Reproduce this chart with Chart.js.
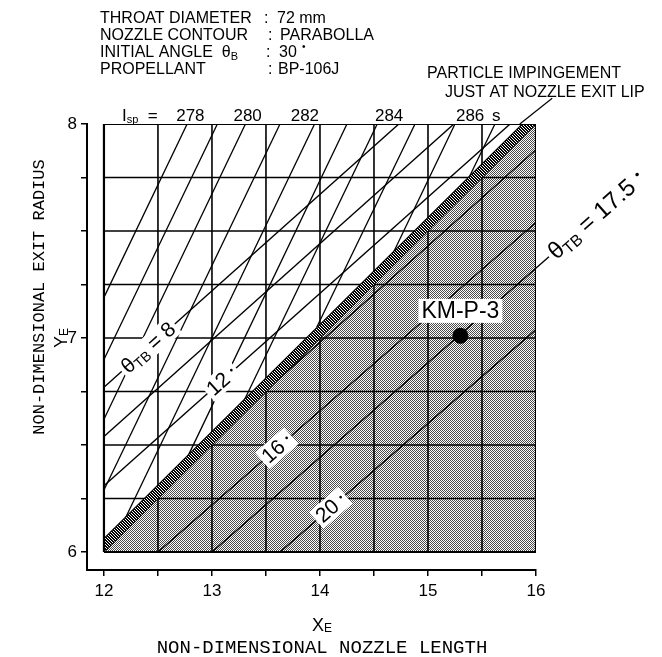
<!DOCTYPE html>
<html>
<head>
<meta charset="utf-8">
<script src="https://cdn.jsdelivr.net/npm/chart.js@4.4.1/dist/chart.umd.min.js"></script>
<style>
  html, body { margin: 0; padding: 0; background: #fff; }
</style>
</head>
<body>
<canvas id="chart" width="662" height="657"></canvas>
<script>
const SANS = '"Liberation Sans", Arial, sans-serif';
const MONO = '"Liberation Mono", "Courier New", monospace';

// ticks and grid
const xTicks = [12, 12.5, 13, 13.5, 14, 14.5, 15, 15.5, 16];
const yTicks = [6, 6.25, 6.5, 6.75, 7, 7.25, 7.5, 7.75, 8];
const gridX = [12.5, 13, 13.5, 14, 14.5, 15, 15.5];
const gridY = [6.25, 6.5, 6.75, 7, 7.25, 7.5, 7.75];

// particle impingement limit and top of the hatched strip
const limitX = [12, 16];
const limitY = [6, 8];
const stripTopY = [6.06, 8.06];

// Isp contours (steep lines), lower end -> top edge
const ispX1 = [12, 12, 12, 12, 12.2, 12.77, 13.3, 13.97, 14.68, 15.38];
const ispY1 = [7.19, 6.9, 6.62, 6.29, 6.16, 6.44, 6.71, 7.05, 7.4, 7.75];
const ispX2 = [12.77, 13.05, 13.31, 13.63, 13.95, 14.25, 14.53, 14.88, 15.25, 15.62];
const ispY2 = [8, 8, 8, 8, 8, 8, 8, 8, 8, 8];
const ispLabels = ['278', '280', '282', '284', '286'];
const ispLabelX = [12.8, 13.33, 13.86, 14.64, 15.39];

// theta_TB contours
const thetaNames = ['8', '10', '12', '14', '16', '17.5', '20'];
const thetaX1 = [12, 12, 12, 13.6, 12.5, 13.0, 13.63];
const thetaY1 = [6.77, 6.54, 6.31, 6.8, 6, 6, 6];
const thetaX2 = [14.73, 15.24, 15.76, 16, 16, 16.12, 16];
const thetaY2 = [8, 8, 8, 7.88, 7.54, 7.38, 7.04];
const thetaTagLine = [0, 2, 4, 6];
const thetaTagX = [12.41, 13.09, 13.6, 14.1];

// design point
const kmX = [15.3];
const kmY = [7.01];

function makeStipple() {
  const c = document.createElement('canvas');
  c.width = 2; c.height = 2;
  const g = c.getContext('2d');
  g.fillStyle = '#fff';
  g.fillRect(0, 0, 2, 2);
  g.fillStyle = '#4a4a4a';
  g.fillRect(0, 0, 1, 1);
  g.fillRect(1, 1, 1, 1);
  return g.createPattern(c, 'repeat');
}

function makeHatch() {
  const c = document.createElement('canvas');
  c.width = 3; c.height = 3;
  const g = c.getContext('2d');
  g.fillStyle = '#fff';
  g.fillRect(0, 0, 3, 3);
  g.fillStyle = '#000';
  for (let i = 0; i < 3; i++) {
    g.fillRect(i, i, 1, 1);
    g.fillRect((i + 1) % 3, i, 1, 1);
  }
  return g.createPattern(c, 'repeat');
}

const seg = (x1, y1, x2, y2, w, extra) => Object.assign({
  data: [{ x: x1, y: y1 }, { x: x2, y: y2 }],
  borderColor: '#000',
  borderWidth: w,
  pointRadius: 0,
  fill: false,
  tension: 0,
  order: 2
}, extra || {});

const datasets = [];

// stippled region below the limit line
datasets.push({
  data: [{ x: 12, y: 6 }, { x: 16, y: 6 }, { x: 16, y: 8 }, { x: 12, y: 6 }],
  borderWidth: 0,
  pointRadius: 0,
  backgroundColor: makeStipple(),
  fill: 'shape',
  order: 6
});

// grid
gridX.forEach(v => datasets.push(seg(v, 6, v, 8, 1.6, { order: 4 })));
gridY.forEach(v => datasets.push(seg(12, v, 16, v, 1.6, { order: 4 })));

// Isp lines
ispX1.forEach((v, i) => datasets.push(seg(v, ispY1[i], ispX2[i], ispY2[i], 1.3)));

// theta lines
thetaX1.forEach((v, i) => datasets.push(seg(v, thetaY1[i], thetaX2[i], thetaY2[i], 1.4,
  thetaNames[i] === '17.5' ? { clip: false } : {})));

// hatched strip along the limit
datasets.push({
  data: [
    { x: limitX[0], y: limitY[0] }, { x: limitX[1], y: limitY[1] },
    { x: limitX[1], y: stripTopY[1] }, { x: limitX[0], y: stripTopY[0] },
    { x: limitX[0], y: limitY[0] }
  ],
  borderWidth: 0,
  pointRadius: 0,
  backgroundColor: makeHatch(),
  fill: 'shape',
  order: 1
});
datasets.push(seg(limitX[0], stripTopY[0], limitX[1], stripTopY[1], 2.2, { order: 1 }));
datasets.push(seg(limitX[0], limitY[0], limitX[1], limitY[1], 1.2, { order: 1 }));

// leader to the strip label
datasets.push(seg(16.15, 8.12, 15.85, 8.0, 1.2, { clip: false, order: 1 }));

// frame
datasets.push({
  data: [{ x: 12, y: 6 }, { x: 16, y: 6 }, { x: 16, y: 8 }, { x: 12, y: 8 }, { x: 12, y: 6 }],
  borderColor: '#000', borderWidth: 2.2, pointRadius: 0, fill: false, order: 0
});

// KM-P-3
datasets.push({
  data: kmX.map((v, i) => ({ x: v, y: kmY[i] })),
  showLine: false,
  pointRadius: 7.5,
  pointBackgroundColor: '#000',
  pointBorderColor: '#000',
  order: 0
});

// draw a run of text pieces [text, size, dy]
function runWidth(ctx, parts, family) {
  let w = 0;
  parts.forEach(p => { ctx.font = p[1] + 'px ' + family; w += ctx.measureText(p[0]).width; });
  return w;
}
function drawRun(ctx, parts, x, y, family) {
  let cx = x;
  parts.forEach(p => {
    ctx.font = p[1] + 'px ' + family;
    ctx.fillText(p[0], cx, y + (p[2] || 0));
    cx += ctx.measureText(p[0]).width;
  });
  return cx;
}
function tag(ctx, px, py, angle, parts, align) {
  ctx.save();
  ctx.translate(px, py);
  ctx.rotate(angle);
  ctx.textBaseline = 'middle';
  ctx.textAlign = 'left';
  const w = runWidth(ctx, parts, SANS);
  const x0 = align === 'left' ? 0 : -w / 2;
  ctx.fillStyle = '#fff';
  ctx.fillRect(x0 - 3, -11, w + 6, 22);
  ctx.fillStyle = '#000';
  drawRun(ctx, parts, x0, 1, SANS);
  ctx.restore();
}

const notes = {
  id: 'notes',
  afterDatasetsDraw(chart) {
    const { ctx, scales: { x, y } } = chart;
    const lineAngle = k => Math.atan2(
      y.getPixelForValue(thetaY2[k]) - y.getPixelForValue(thetaY1[k]),
      x.getPixelForValue(thetaX2[k]) - x.getPixelForValue(thetaX1[k]));

    thetaTagX.forEach((lx, i) => {
      const k = thetaTagLine[i];
      const ly = thetaY1[k] + (thetaY2[k] - thetaY1[k]) * (lx - thetaX1[k]) / (thetaX2[k] - thetaX1[k]);
      const parts = i === 0
        ? [['θ', 21], ['TB', 14, 5], [' = ' + thetaNames[k], 21]]
        : [[thetaNames[k], 21], ['  •', 10, -2]];
      tag(ctx, x.getPixelForValue(lx), y.getPixelForValue(ly), lineAngle(k), parts);
    });

    // theta = 17.5 label beyond the frame
    const k = thetaNames.indexOf('17.5');
    const a = lineAngle(k);
    const ex = x.getPixelForValue(thetaX2[k]) + 3 * Math.cos(a);
    const ey = y.getPixelForValue(thetaY2[k]) + 3 * Math.sin(a);
    ctx.save();
    ctx.translate(ex, ey);
    ctx.rotate(a);
    ctx.textBaseline = 'middle';
    ctx.fillStyle = '#000';
    drawRun(ctx, [['θ', 24], ['TB', 16, 6], [' = 17.5', 24], ['  •', 13, -4]], 0, 1, SANS);
    ctx.restore();

    // KM-P-3 label
    const kx = x.getPixelForValue(kmX[0]);
    const ky = y.getPixelForValue(kmY[0]) - 25;
    ctx.save();
    ctx.font = '23px ' + SANS;
    const kw = ctx.measureText('KM-P-3').width;
    ctx.fillStyle = '#fff';
    ctx.fillRect(kx - kw / 2 - 3, ky - 12, kw + 6, 24);
    ctx.fillStyle = '#000';
    ctx.textAlign = 'center';
    ctx.textBaseline = 'middle';
    ctx.fillText('KM-P-3', kx, ky + 1);
    ctx.restore();

    // Isp row over the frame
    ctx.save();
    ctx.fillStyle = '#000';
    ctx.textBaseline = 'alphabetic';
    drawRun(ctx, [['I', 17], ['sp', 11, 2], ['  =', 17]], 122, 121, SANS);
    ctx.font = '17px ' + SANS;
    ctx.textAlign = 'center';
    ispLabels.forEach((t, i) => ctx.fillText(t, x.getPixelForValue(ispLabelX[i]), 121));
    ctx.textAlign = 'left';
    ctx.fillText('s', x.getPixelForValue(ispLabelX[4]) + 22, 121);
    ctx.restore();
  },
  afterDraw(chart) {
    const ctx = chart.ctx;
    ctx.save();
    ctx.fillStyle = '#000';
    ctx.textBaseline = 'alphabetic';
    ctx.textAlign = 'left';

    // header block
    ctx.font = '16px ' + SANS;
    ctx.fillText('THROAT DIAMETER', 100, 23);
    ctx.fillText(':', 264, 23);
    ctx.fillText('72 mm', 277, 23);
    ctx.fillText('NOZZLE CONTOUR', 100, 40);
    ctx.fillText(':', 268, 40);
    ctx.fillText('PARABOLLA', 280, 40);
    drawRun(ctx, [['INITIAL ANGLE  θ', 16], ['B', 11, 3]], 100, 57, SANS);
    ctx.font = '16px ' + SANS;
    ctx.fillText(':', 266, 57);
    ctx.fillText('30', 279, 57);
    ctx.font = '10px ' + SANS;
    ctx.fillText('•', 302, 50);
    ctx.font = '16px ' + SANS;
    ctx.fillText('PROPELLANT', 100, 74);
    ctx.fillText(':', 268, 74);
    ctx.fillText('BP-106J', 278, 74);

    // strip annotation
    ctx.fillText('PARTICLE IMPINGEMENT', 427, 78);
    ctx.fillText('JUST AT NOZZLE EXIT LIP', 445, 97);

    // axis titles
    ctx.textAlign = 'left';
    ctx.textBaseline = 'middle';
    let w = runWidth(ctx, [['X', 18], ['E', 12]], SANS);
    drawRun(ctx, [['X', 18], ['E', 12, 3]], 322 - w / 2, 626, SANS);
    ctx.font = '19px ' + MONO;
    ctx.textAlign = 'center';
    ctx.fillText('NON-DIMENSIONAL NOZZLE LENGTH', 322, 648);

    ctx.save();
    ctx.translate(39, 297);
    ctx.rotate(-Math.PI / 2);
    ctx.font = '17px ' + MONO;
    ctx.fillText('NON-DIMENSIONAL EXIT RADIUS', 0, 0);
    ctx.restore();

    ctx.save();
    ctx.translate(62, 338);
    ctx.rotate(-Math.PI / 2);
    ctx.textAlign = 'left';
    w = runWidth(ctx, [['Y', 18], ['E', 12]], SANS);
    drawRun(ctx, [['Y', 18], ['E', 12, 3]], -w / 2, 0, SANS);
    ctx.restore();

    ctx.restore();
  }
};

new Chart(document.getElementById('chart'), {
  type: 'line',
  data: { datasets },
  options: {
    responsive: false,
    animation: false,
    layout: { padding: { left: 0, right: 126, top: 124, bottom: 0 } },
    plugins: { legend: { display: false }, tooltip: { enabled: false } },
    scales: {
      x: {
        type: 'linear',
        bounds: 'data',
        min: 11.843,
        max: 16,
        afterBuildTicks: s => { s.ticks = xTicks.map(v => ({ value: v })); },
        afterFit: s => { s.height = 87; },
        ticks: {
          autoSkip: false,
          maxRotation: 0,
          padding: 5,
          color: '#000',
          font: { family: SANS, size: 17 },
          callback: v => Number.isInteger(v) ? String(v) : ''
        },
        grid: { drawOnChartArea: false, tickLength: 6, color: '#000', lineWidth: 1.5 },
        border: { color: '#000', width: 2 }
      },
      y: {
        type: 'linear',
        bounds: 'data',
        min: 5.916,
        max: 8,
        afterBuildTicks: s => { s.ticks = yTicks.map(v => ({ value: v })); },
        afterFit: s => { s.width = 87; },
        ticks: {
          autoSkip: false,
          padding: 4,
          color: '#000',
          font: { family: SANS, size: 17 },
          callback: v => Number.isInteger(v) ? String(v) : ''
        },
        grid: { drawOnChartArea: false, tickLength: 6, color: '#000', lineWidth: 1.5 },
        border: { color: '#000', width: 2 }
      }
    }
  },
  plugins: [notes]
});
</script>
</body>
</html>
